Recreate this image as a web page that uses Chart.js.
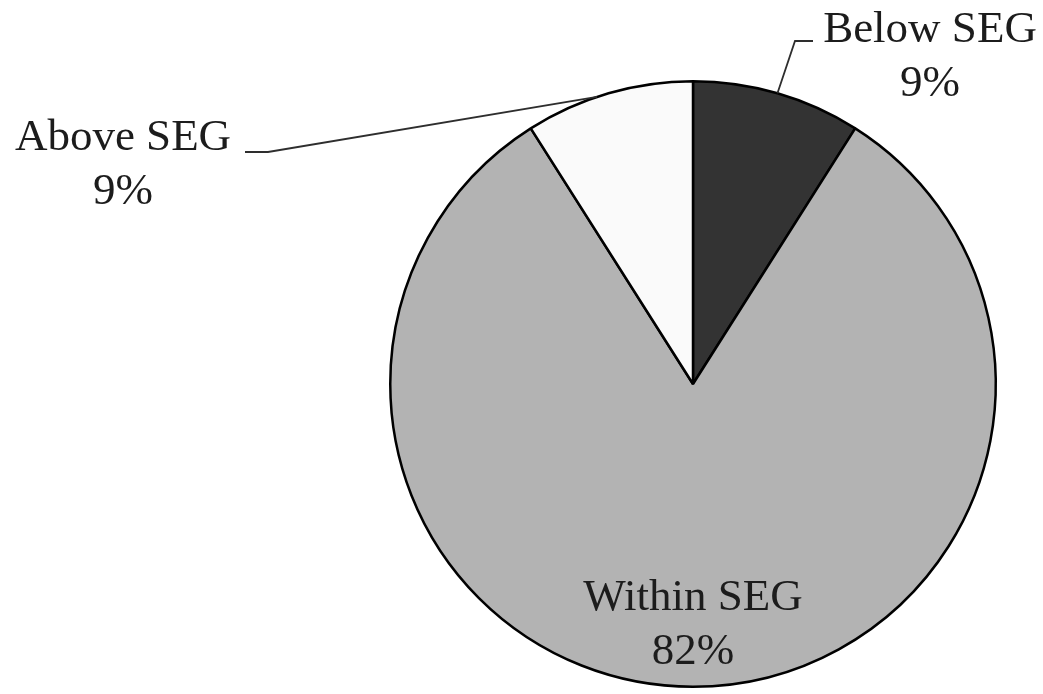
<!DOCTYPE html>
<html>
<head>
<meta charset="utf-8">
<script src="https://cdn.jsdelivr.net/npm/chart.js@4/dist/chart.umd.min.js"></script>
<style>
  html, body { margin: 0; padding: 0; background: #ffffff; }
  #wrap { width: 1043px; height: 694px; }
</style>
</head>
<body>
<div id="wrap"><canvas id="c" width="1043" height="694"></canvas></div>
<script>
// Share of readings relative to the SEG zones
const categories = ['Below SEG', 'Within SEG', 'Above SEG'];
const shares = [9, 82, 9];
const sliceColors = ['#333333', '#b3b3b3', '#fafafa'];

const FONT = '45px "Liberation Serif", "Times New Roman", serif';

// Draws the two-line labels; outer labels get a leader line to the slice edge
const sliceLabels = {
  id: 'sliceLabels',
  afterDatasetsDraw(chart) {
    const ctx = chart.ctx;
    const arcs = chart.getDatasetMeta(0).data;
    const cx = arcs[0].x, cy = arcs[0].y, r = arcs[0].outerRadius;
    ctx.save();
    ctx.font = FONT;
    ctx.fillStyle = '#1c1c1c';
    ctx.textAlign = 'center';
    ctx.textBaseline = 'alphabetic';

    // point on the rim at the slice's mid angle, nudged by an angular offset
    const edge = (arc, shift) => {
      const a = (arc.startAngle + arc.endAngle) / 2 + (shift || 0);
      return { x: cx + r * Math.cos(a), y: cy + r * Math.sin(a) };
    };

    // label placement relative to the pie centre, plus leader elbow/end points
    const place = [
      { dx: 237, dy: -342, elbow: [102, -343], end: [120, -343] },
      { dx: 0, dy: 226 },
      { dx: -570, dy: -234, elbow: [-425, -232], end: [-448, -232], shift: -0.04 }
    ];

    ctx.strokeStyle = '#2e2e2e';
    ctx.lineWidth = 1.8;
    arcs.forEach((arc, i) => {
      const p = place[i];
      if (p.elbow) {
        const e = edge(arc, p.shift);
        ctx.beginPath();
        ctx.moveTo(e.x, e.y);
        ctx.lineTo(cx + p.elbow[0], cy + p.elbow[1]);
        ctx.lineTo(cx + p.end[0], cy + p.end[1]);
        ctx.stroke();
      }
      const x = cx + p.dx, y = cy + p.dy;
      ctx.fillText(categories[i], x, y);
      ctx.fillText(shares[i] + '%', x, y + 54);
    });
    ctx.restore();
  }
};

new Chart(document.getElementById('c'), {
  type: 'pie',
  data: {
    labels: categories,
    datasets: [{
      data: shares,
      backgroundColor: sliceColors,
      borderColor: '#000000',
      borderWidth: 2.5,
      borderAlign: 'center'
    }]
  },
  options: {
    responsive: false,
    animation: false,
    events: [],
    layout: { padding: { left: 389, right: 46, top: 80, bottom: 6 } },
    plugins: {
      legend: { display: false },
      tooltip: { enabled: false }
    }
  },
  plugins: [sliceLabels]
});
</script>
</body>
</html>
